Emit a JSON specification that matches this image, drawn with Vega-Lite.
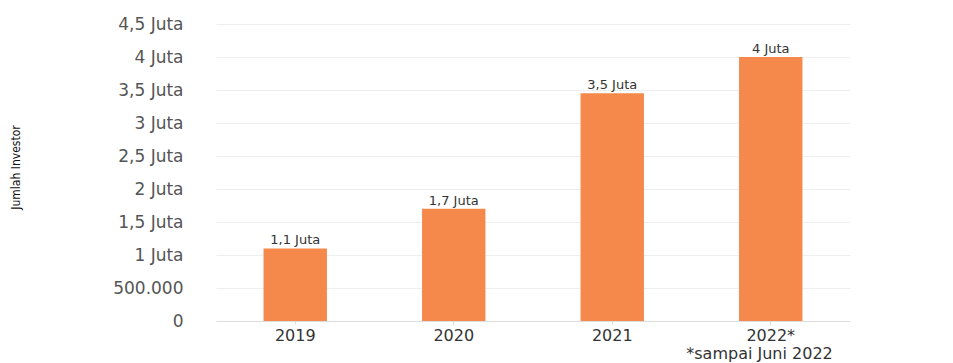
{
  "$schema": "https://vega.github.io/schema/vega-lite/v6.json",
  "width": 634,
  "height": 297,
  "autosize": {"type": "none"},
  "padding": {"left": 216, "top": 24, "right": 103, "bottom": 42},
  "background": "white",
  "data": {
    "values": [
      {"tahun": "2019", "investor": 1100000, "label": "1,1 Juta"},
      {"tahun": "2020", "investor": 1700000, "label": "1,7 Juta"},
      {"tahun": "2021", "investor": 3450000, "label": "3,5 Juta"},
      {"tahun": "2022*", "investor": 4000000, "label": "4 Juta"}
    ]
  },
  "config": {
    "view": {"stroke": null},
    "font": "DejaVu Sans"
  },
  "encoding": {
    "x": {
      "field": "tahun",
      "type": "nominal",
      "sort": null,
      "scale": {"paddingInner": 0.6, "paddingOuter": 0.3},
      "axis": {
        "labelAngle": 0,
        "labelFont": "DejaVu Sans",
        "labelFontSize": 16,
        "labelColor": "#333333",
        "labelPadding": 3,
        "labelBaseline": "top",
        "domainColor": "#dddddd",
        "tickColor": "#dddddd",
        "tickSize": 3,
        "title": "*sampai Juni 2022",
        "titleFont": "DejaVu Sans",
        "titleFontSize": 16,
        "titleFontWeight": "normal",
        "titleColor": "#333333",
        "titleX": 543,
        "titleY": 37,
        "titleAlign": "center",
        "titleBaseline": "alphabetic"
      }
    },
    "y": {
      "field": "investor",
      "type": "quantitative",
      "scale": {"domain": [0, 4500000], "nice": false},
      "axis": {
        "values": [0, 500000, 1000000, 1500000, 2000000, 2500000, 3000000, 3500000, 4000000, 4500000],
        "labelExpr": "datum.value == 0 ? '0' : (datum.value == 500000 ? '500.000' : replace(format(datum.value / 1000000, '~g'), '.', ',') + ' Juta')",
        "labelFont": "DejaVu Sans",
        "labelFontSize": 17,
        "labelColor": "#555555",
        "labelPadding": 33,
        "domain": false,
        "ticks": false,
        "gridColor": "#eeeeee",
        "title": "Jumlah Investor",
        "titleFont": "DejaVu Sans Condensed",
        "titleFontSize": 12,
        "titleFontWeight": "normal",
        "titleColor": "#111111",
        "titleX": -201,
        "titleY": 143,
        "titleAngle": -90,
        "titleAlign": "center",
        "titleBaseline": "middle"
      }
    }
  },
  "layer": [
    {"mark": {"type": "bar", "color": "#F5894B"}},
    {
      "mark": {"type": "text", "baseline": "bottom", "dy": -1, "fontSize": 13, "font": "DejaVu Sans", "color": "#333333"},
      "encoding": {"text": {"field": "label"}}
    }
  ]
}
